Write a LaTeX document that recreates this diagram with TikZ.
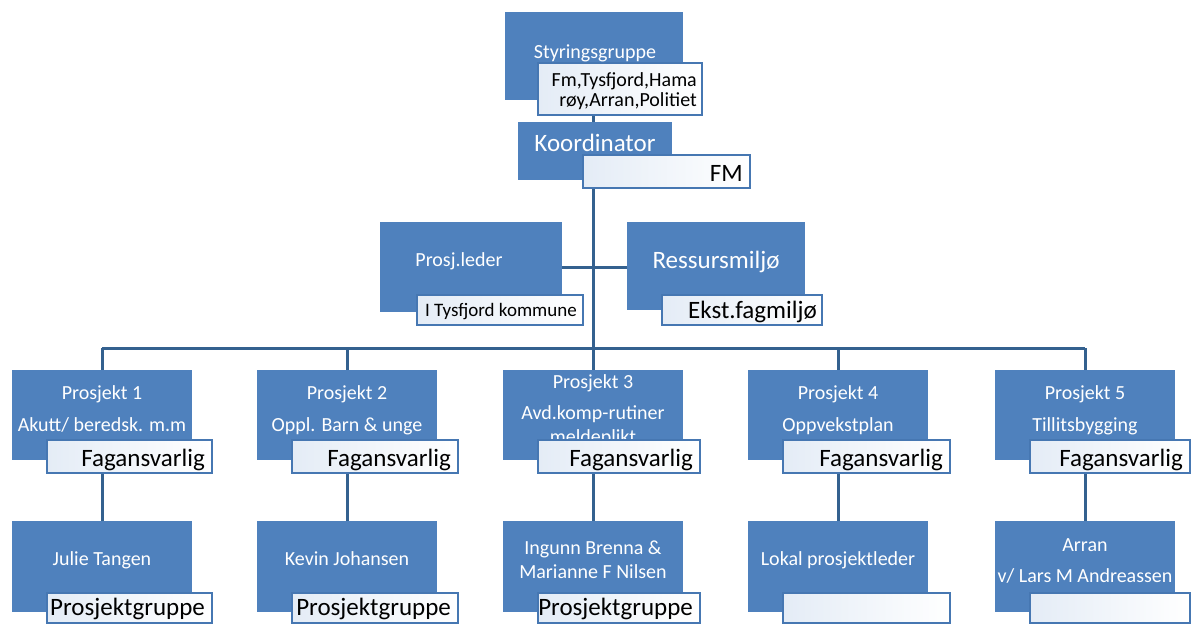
\documentclass[tikz,border=0pt]{standalone}
\usepackage{fontspec}
\setmainfont{Carlito}
\usetikzlibrary{backgrounds}
\definecolor{boxblue}{HTML}{4F81BD}
\definecolor{edgeblue}{HTML}{4677B2}
\definecolor{linkblue}{HTML}{34618F}
\definecolor{paleblue}{HTML}{E4ECF6}
\newcommand{\mkbox}[6]{\node[#1, minimum width={#5-#3}, minimum height={#6-#4}] (#2) at ({(#3+#5)/2},{(#4+#6)/2}) {};}
\tikzset{
 bluebox/.style={fill=boxblue, draw=none, inner sep=0pt, outer sep=0pt, rectangle},
 whitebox/.style={draw=edgeblue, line width=2.8pt, left color=paleblue, middle color=paleblue!45, right color=white, inner sep=0pt, outer sep=0pt, rectangle},
 conn/.style={draw=linkblue, line width=3pt},
 wtxt/.style={text=white, inner sep=0pt, anchor=base, font=\fontsize{20}{24}\selectfont},
 wbig/.style={wtxt, font=\fontsize{25}{30}\selectfont},
 btxt/.style={text=black, inner sep=0pt, anchor=base east, font=\fontsize{25}{30}\selectfont},
 bsmall/.style={btxt, font=\fontsize{20}{24}\selectfont},
}
\begin{document}
\begin{tikzpicture}[x=1pt,y=-1pt]
\useasboundingbox (0,0) rectangle (1196,624);
% top: Styringsgruppe
\mkbox{bluebox}{sg}{505}{12}{683}{100}
\node[wtxt] (sgt) at (595,58) {Styringsgruppe};
\mkbox{whitebox}{sgw}{538}{63}{702}{115}
\node[bsmall] (sgw1) at (697,86) {Fm,Tysfjord,Hama};
\node[bsmall] (sgw2) at (697,106) {røy,Arran,Politiet};
% Koordinator
\mkbox{bluebox}{ko}{518}{122}{672}{180}
\node[wbig] (kot) at (595,151) {Koordinator};
\mkbox{whitebox}{kow}{583}{155}{750}{188}
\node[btxt] (kowt) at (743,181) {FM};
% Prosj.leder
\mkbox{bluebox}{pl}{380}{222}{562}{312}
\node[wtxt] (plt) at (459,266) {Prosj.leder};
\mkbox{whitebox}{plw}{417}{295}{583}{325}
\node[btxt, font=\fontsize{19}{23}\selectfont] (plwt) at (577,316) {I Tysfjord kommune};
% Ressursmiljo
\mkbox{bluebox}{rm}{627}{222}{805}{310}
\node[wbig] (rmt) at (716,268) {Ressursmiljø};
\mkbox{whitebox}{rmw}{662}{295}{822}{325}
\node[btxt] (rmwt) at (817,318) {Ekst.fagmiljø};
% Projects
\mkbox{bluebox}{p1}{12}{370}{192}{460}
\node[wtxt] (p1a) at (102,399) {Prosjekt 1};
\node[wtxt] (p1b) at (102,431) {Akutt/ beredsk. m.m};
\mkbox{whitebox}{p1w}{47}{440}{212}{473}
\node[btxt] (p1wt) at (205,466) {Fagansvarlig};

\mkbox{bluebox}{p2}{257}{370}{437}{460}
\node[wtxt] (p2a) at (347,399) {Prosjekt 2};
\node[wtxt] (p2b) at (347,431) {Oppl. Barn \& unge};
\mkbox{whitebox}{p2w}{292}{440}{458}{473}
\node[btxt] (p2wt) at (451,466) {Fagansvarlig};

\mkbox{bluebox}{p3}{503}{370}{683}{460}
\node[wtxt] (p3a) at (593,388) {Prosjekt 3};
\node[wtxt] (p3b) at (593,419) {Avd.komp-rutiner};
\node[wtxt] (p3c) at (593,443) {meldeplikt};
\mkbox{whitebox}{p3w}{538}{440}{700}{473}
\node[btxt] (p3wt) at (693,466) {Fagansvarlig};

\mkbox{bluebox}{p4}{748}{370}{928}{460}
\node[wtxt] (p4a) at (838,399) {Prosjekt 4};
\node[wtxt] (p4b) at (838,431) {Oppvekstplan};
\mkbox{whitebox}{p4w}{783}{440}{950}{473}
\node[btxt] (p4wt) at (943,466) {Fagansvarlig};

\mkbox{bluebox}{p5}{995}{370}{1175}{460}
\node[wtxt] (p5a) at (1085,399) {Prosjekt 5};
\node[wtxt] (p5b) at (1085,431) {Tillitsbygging};
\mkbox{whitebox}{p5w}{1030}{440}{1190}{473}
\node[btxt] (p5wt) at (1183,466) {Fagansvarlig};
% Bottom row
\mkbox{bluebox}{b1}{12}{521}{192}{612}
\node[wtxt] (b1a) at (102,565) {Julie Tangen};
\mkbox{whitebox}{b1w}{47}{593}{212}{623}
\node[btxt] (b1wt) at (205,615) {Prosjektgruppe};

\mkbox{bluebox}{b2}{257}{521}{437}{612}
\node[wtxt] (b2a) at (347,565) {Kevin Johansen};
\mkbox{whitebox}{b2w}{292}{593}{458}{623}
\node[btxt] (b2wt) at (451,615) {Prosjektgruppe};

\mkbox{bluebox}{b3}{503}{521}{683}{612}
\node[wtxt] (b3a) at (593,554) {Ingunn Brenna \&};
\node[wtxt] (b3b) at (593,578) {Marianne F Nilsen};
\mkbox{whitebox}{b3w}{538}{593}{700}{623}
\node[btxt] (b3wt) at (693,615) {Prosjektgruppe};

\mkbox{bluebox}{b4}{748}{521}{928}{612}
\node[wtxt] (b4a) at (838,565) {Lokal prosjektleder};
\mkbox{whitebox}{b4w}{783}{593}{950}{623}

\mkbox{bluebox}{b5}{995}{521}{1175}{612}
\node[wtxt] (b5a) at (1085,551) {Arran};
\node[wtxt] (b5b) at (1085,582) {v/ Lars M Andreassen};
\mkbox{whitebox}{b5w}{1030}{593}{1190}{623}
% connectors
\begin{pgfonlayer}{background}
\coordinate (bus) at (593,348);
\draw[conn] (sgw.south -| bus) -- (ko.north -| bus);
\draw[conn] (kow.south -| bus) -- (bus);
\draw[conn] (pl.east) -- (pl.east -| rm.west);
\draw[conn] (p1.north |- bus) -- (p5.north |- bus);
\foreach \i in {1,...,5}{
  \draw[conn] (p\i.north |- bus) -- (p\i.north);
  \draw[conn] (p\i w.south -| p\i) -- (b\i.north);
}
\end{pgfonlayer}
\end{tikzpicture}
\end{document}
